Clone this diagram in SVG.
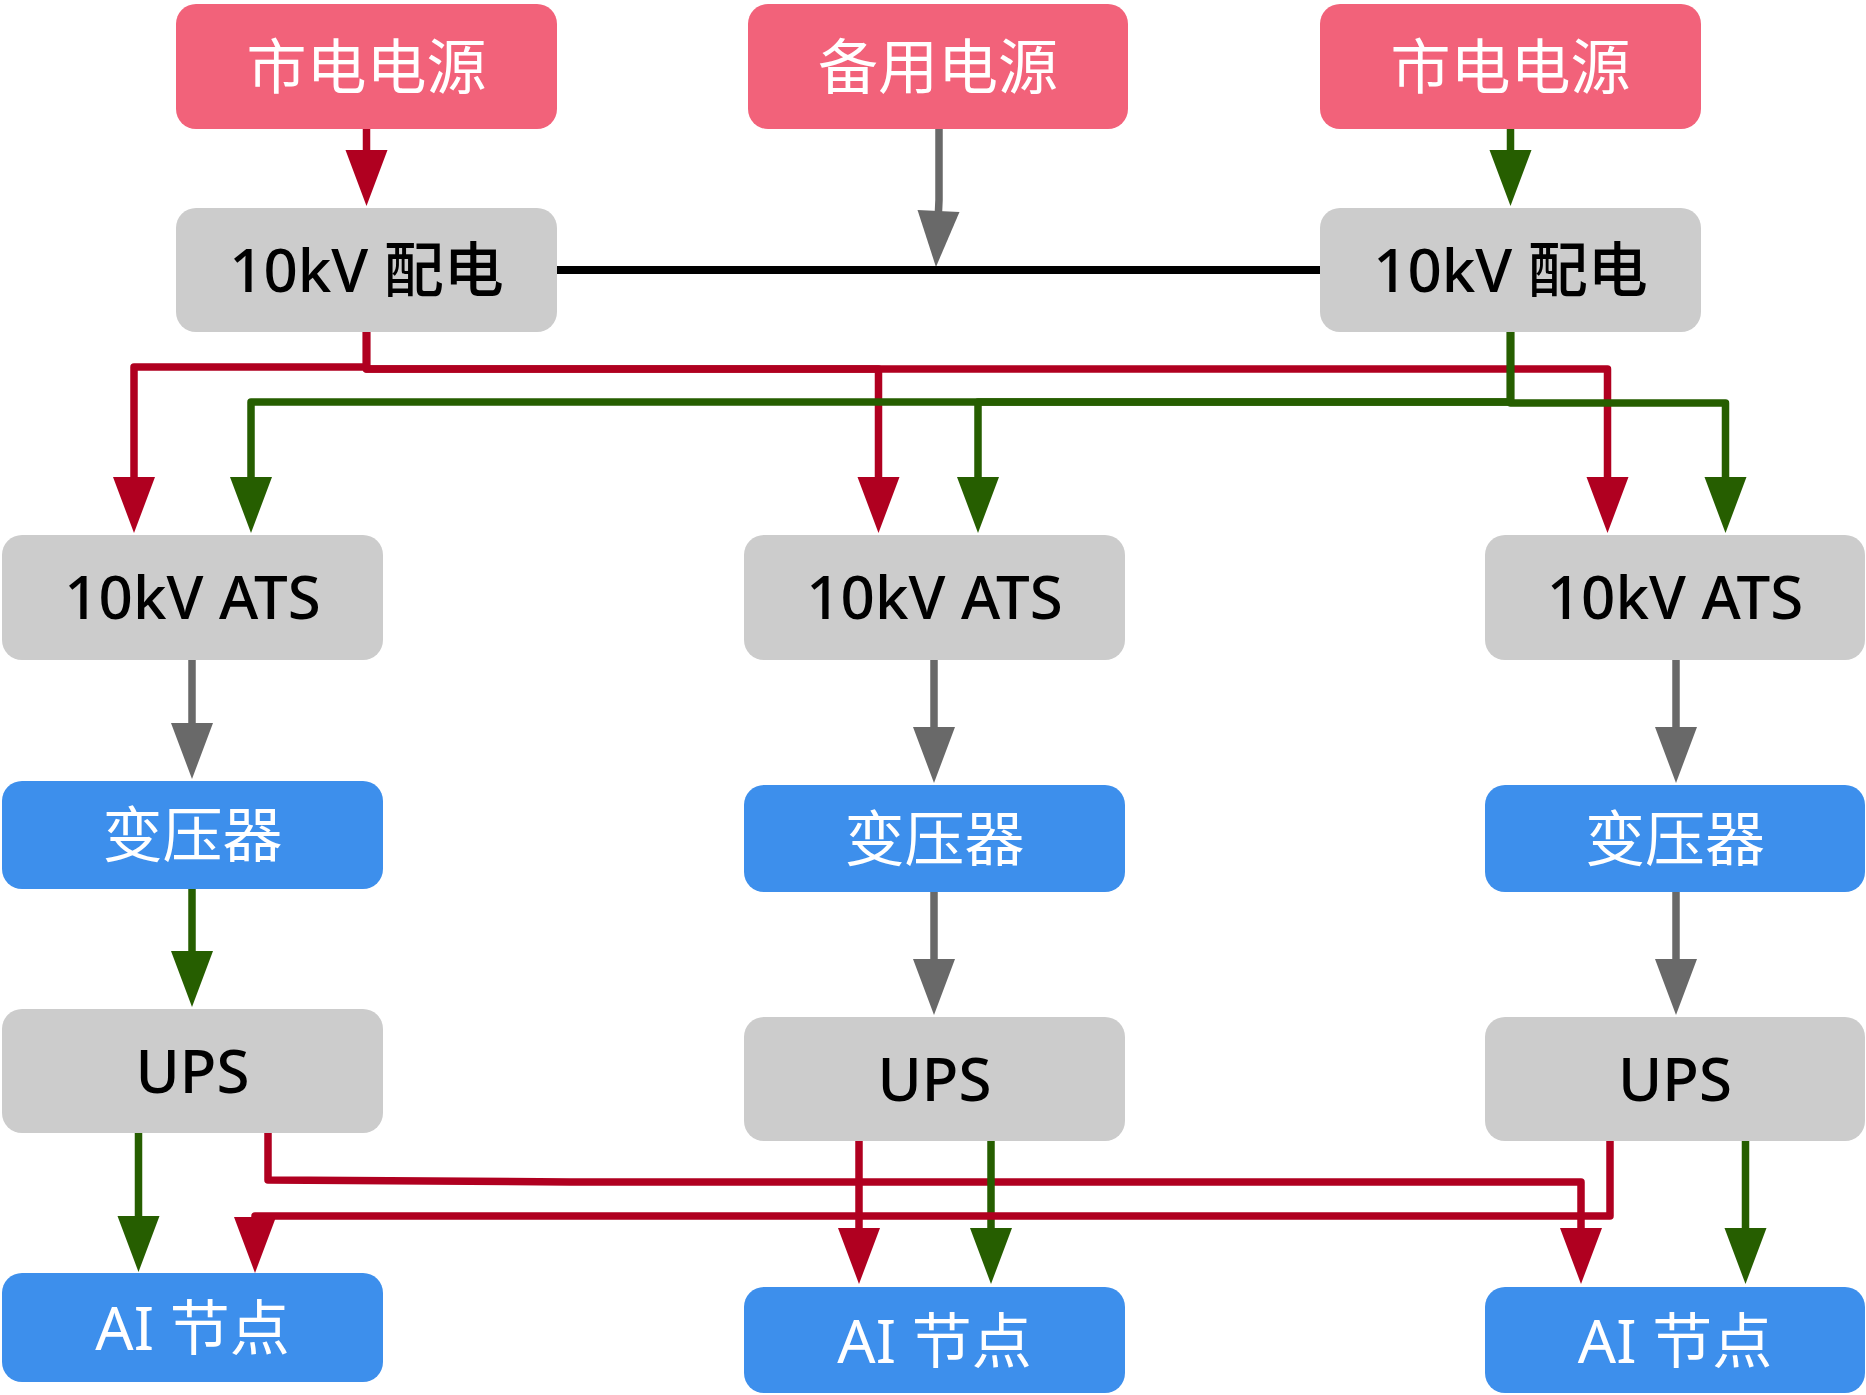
<svg xmlns="http://www.w3.org/2000/svg" width="1866" height="1395" viewBox="0 0 1866 1395">
<style>
.pink{fill:#F2627A}
.gray{fill:#CCCCCC}
.blue{fill:#3D8FEC}
.t{font-family:"Noto Sans","Noto Sans CJK SC",sans-serif;font-size:60px;text-anchor:middle}
.w{fill:#FFFFFF}
.k{fill:#000000;font-weight:500}
.c{fill:none;stroke-width:7.5;stroke-linecap:round;stroke-linejoin:round}
.r{stroke:#B00020}
.g{stroke:#265E00}
.d{stroke:#696969}
.b{stroke:#000000;stroke-width:8}
</style>
<defs>
<marker id="ar" markerUnits="userSpaceOnUse" markerWidth="56" markerHeight="42" refX="0" refY="21" orient="auto" overflow="visible"><path d="M0,0 L56,21 L0,42 Z" fill="#B00020"/></marker>
<marker id="ag" markerUnits="userSpaceOnUse" markerWidth="56" markerHeight="42" refX="0" refY="21" orient="auto" overflow="visible"><path d="M0,0 L56,21 L0,42 Z" fill="#265E00"/></marker>
<marker id="ad" markerUnits="userSpaceOnUse" markerWidth="56" markerHeight="42" refX="0" refY="21" orient="auto" overflow="visible"><path d="M0,0 L56,21 L0,42 Z" fill="#696969"/></marker>
</defs>
<rect width="1866" height="1395" fill="#FFFFFF"/>
<g id="connectors">
<path class="c r" d="M366.5,129 V150" marker-end="url(#ar)"/>
<path class="c d" d="M939,129 V200 L938.5,211" marker-end="url(#ad)"/>
<path class="c g" d="M1510.5,129 V150" marker-end="url(#ag)"/>
<path class="c b" d="M557,270 H1320"/>
<path class="c r" d="M366.5,332 V367 H134 V477" marker-end="url(#ar)"/>
<path class="c r" d="M366.5,332 V369 H878.5 V477" marker-end="url(#ar)"/>
<path class="c r" d="M366.5,332 V369 H1607.5 V477" marker-end="url(#ar)"/>
<path class="c g" d="M1510.5,332 V402 H251 V477" marker-end="url(#ag)"/>
<path class="c g" d="M1510.5,332 V402 H978 V477" marker-end="url(#ag)"/>
<path class="c g" d="M1510.5,332 V403 H1725.5 V477" marker-end="url(#ag)"/>
<path class="c d" d="M192,660 V723" marker-end="url(#ad)"/>
<path class="c d" d="M934,660 V727" marker-end="url(#ad)"/>
<path class="c d" d="M1676,660 V727" marker-end="url(#ad)"/>
<path class="c g" d="M192,889 V951" marker-end="url(#ag)"/>
<path class="c d" d="M934,892 V959" marker-end="url(#ad)"/>
<path class="c d" d="M1676,892 V959" marker-end="url(#ad)"/>
<path class="c g" d="M138.5,1133 V1216" marker-end="url(#ag)"/>
<path class="c r" d="M268,1133 V1180 L570,1182 H1581 V1228" marker-end="url(#ar)"/>
<path class="c r" d="M859,1141 V1228" marker-end="url(#ar)"/>
<path class="c g" d="M991,1141 V1228" marker-end="url(#ag)"/>
<path class="c r" d="M1610,1141 V1216 H255 V1217" marker-end="url(#ar)"/>
<path class="c g" d="M1745.5,1141 V1228" marker-end="url(#ag)"/>
</g>
<g id="src1"><rect class="pink" x="176" y="4" width="381" height="125" rx="20"/><text class="t w" x="366.5" y="89">市电电源</text></g>
<g id="src2"><rect class="pink" x="748" y="4" width="380" height="125" rx="20"/><text class="t w" x="938" y="89">备用电源</text></g>
<g id="src3"><rect class="pink" x="1320" y="4" width="381" height="125" rx="20"/><text class="t w" x="1510.5" y="89">市电电源</text></g>
<g id="dist1"><rect class="gray" x="176" y="208" width="381" height="124" rx="20"/><text class="t k" x="366.5" y="292">10kV 配电</text></g>
<g id="dist2"><rect class="gray" x="1320" y="208" width="381" height="124" rx="20"/><text class="t k" x="1510.5" y="292">10kV 配电</text></g>
<g id="ats1"><rect class="gray" x="2" y="535" width="381" height="125" rx="20"/><text class="t k" x="192.5" y="619">10kV ATS</text></g>
<g id="ats2"><rect class="gray" x="744" y="535" width="381" height="125" rx="20"/><text class="t k" x="934.5" y="619">10kV ATS</text></g>
<g id="ats3"><rect class="gray" x="1485" y="535" width="380" height="125" rx="20"/><text class="t k" x="1675" y="619">10kV ATS</text></g>
<g id="tr1"><rect class="blue" x="2" y="781" width="381" height="108" rx="20"/><text class="t w" x="192.5" y="857">变压器</text></g>
<g id="tr2"><rect class="blue" x="744" y="785" width="381" height="107" rx="20"/><text class="t w" x="934.5" y="861">变压器</text></g>
<g id="tr3"><rect class="blue" x="1485" y="785" width="380" height="107" rx="20"/><text class="t w" x="1675" y="861">变压器</text></g>
<g id="ups1"><rect class="gray" x="2" y="1009" width="381" height="124" rx="20"/><text class="t k" x="192.5" y="1093">UPS</text></g>
<g id="ups2"><rect class="gray" x="744" y="1017" width="381" height="124" rx="20"/><text class="t k" x="934.5" y="1101">UPS</text></g>
<g id="ups3"><rect class="gray" x="1485" y="1017" width="380" height="124" rx="20"/><text class="t k" x="1675" y="1101">UPS</text></g>
<g id="ai1"><rect class="blue" x="2" y="1273" width="381" height="109" rx="20"/><text class="t w" x="192.5" y="1350">AI 节点</text></g>
<g id="ai2"><rect class="blue" x="744" y="1287" width="381" height="106" rx="20"/><text class="t w" x="934.5" y="1363">AI 节点</text></g>
<g id="ai3"><rect class="blue" x="1485" y="1287" width="380" height="106" rx="20"/><text class="t w" x="1675" y="1363">AI 节点</text></g>
</svg>
